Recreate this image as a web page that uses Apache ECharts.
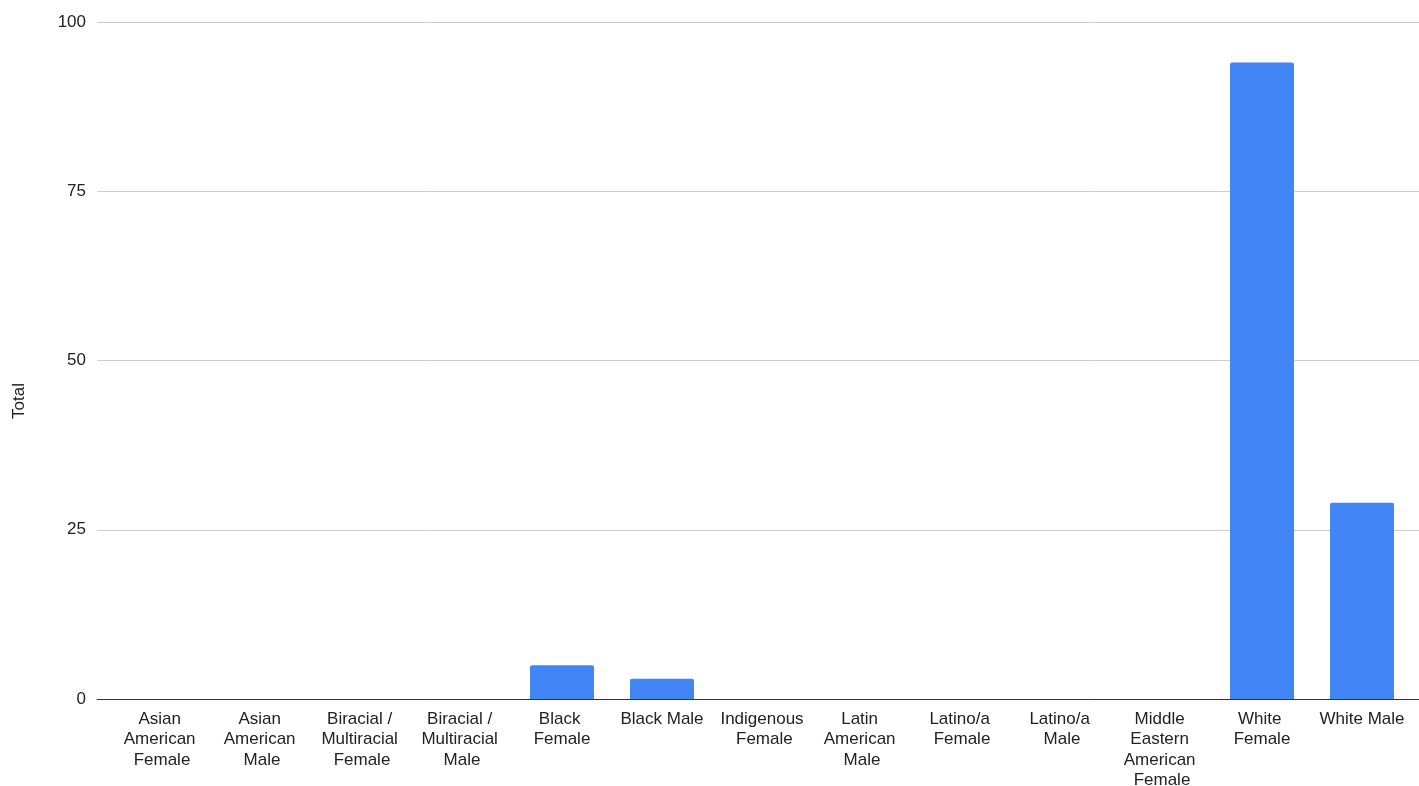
<!DOCTYPE html>
<html>
<head>
<meta charset="utf-8">
<script src="https://cdn.jsdelivr.net/npm/echarts@6/dist/echarts.min.js"></script>
<style>
  html, body { margin: 0; padding: 0; background: #ffffff; }
  #chart { width: 1419px; height: 786px; }
</style>
</head>
<body>
<div id="chart"></div>
<script>
// Group labels along the x axis
const categories = [
  'Asian American Female',
  'Asian American Male',
  'Biracial / Multiracial Female',
  'Biracial / Multiracial Male',
  'Black Female',
  'Black Male',
  'Indigenous Female',
  'Latin American Male',
  'Latino/a Female',
  'Latino/a Male',
  'Middle Eastern American Female',
  'White Female',
  'White Male'
];

// Count per group
const totals = [0, 0, 0, 0, 5, 3, 0, 0, 0, 0, 0, 94, 29];

// Value axis ticks
const yTicks = [0, 25, 50, 75, 100];

// Value axis title
const yTitle = 'Total';

const font = 'Liberation Sans, Arial, sans-serif';
const yMin = yTicks[0];
const yMax = yTicks[yTicks.length - 1];

const chart = echarts.init(document.getElementById('chart'), null, { renderer: 'canvas' });

chart.setOption({
  backgroundColor: '#ffffff',
  animation: false,
  grid: [
    // Frame: gridlines, value labels and baseline span the full width
    { left: 97, right: 0, top: 22, bottom: 87, containLabel: false, outerBoundsMode: 'none' },
    // Bars sit in a slightly inset band
    { left: 112, right: 7, top: 22, bottom: 87, containLabel: false, outerBoundsMode: 'none' }
  ],
  graphic: [{
    type: 'text',
    x: 19,
    y: 401,
    rotation: Math.PI / 2,
    style: {
      text: yTitle,
      fill: '#222222',
      font: '17px ' + font,
      align: 'center',
      verticalAlign: 'middle'
    }
  }],
  xAxis: [
    {
      gridIndex: 0,
      type: 'value',
      min: 0,
      max: 1,
      axisLine: { show: true, onZero: false, lineStyle: { color: '#333333', width: 1 } },
      axisTick: { show: false },
      axisLabel: { show: false },
      splitLine: { show: false }
    },
    {
      gridIndex: 1,
      type: 'category',
      data: categories,
      axisLine: { show: false },
      axisTick: { show: false },
      axisLabel: {
        interval: 0,
        color: '#222222',
        fontFamily: font,
        fontSize: 17,
        lineHeight: 20.5,
        margin: 10,
        width: 87,
        overflow: 'break',
        align: 'center'
      }
    }
  ],
  yAxis: [
    {
      gridIndex: 0,
      type: 'value',
      min: yMin,
      max: yMax,
      interval: 25,
      axisLine: { show: false },
      axisTick: { show: false },
      splitLine: { lineStyle: { color: '#cccccc', width: 1 } },
      axisLabel: { color: '#222222', fontFamily: font, fontSize: 17, margin: 11 }
    },
    {
      gridIndex: 1,
      type: 'value',
      min: yMin,
      max: yMax,
      interval: 25,
      show: false,
      splitLine: { show: false }
    }
  ],
  series: [{
    type: 'bar',
    xAxisIndex: 1,
    yAxisIndex: 1,
    data: totals,
    barWidth: '64%',
    itemStyle: { color: '#4285f4', borderRadius: [2, 2, 0, 0] }
  }]
});
</script>
</body>
</html>
